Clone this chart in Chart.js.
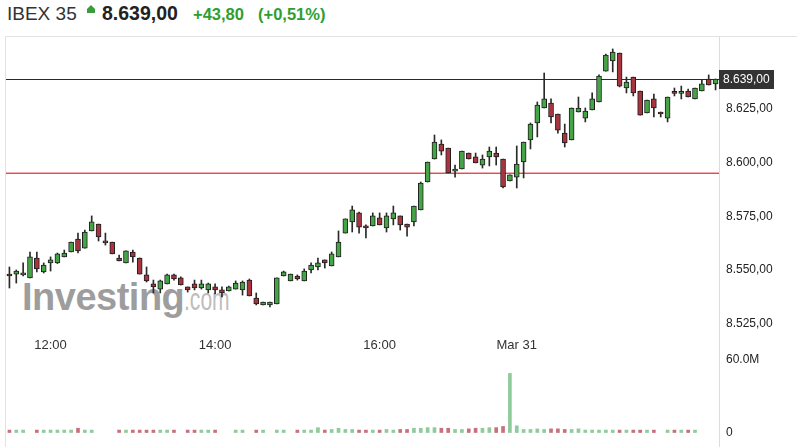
<!DOCTYPE html>
<html>
<head>
<meta charset="utf-8">
<script src="https://cdn.jsdelivr.net/npm/chart.js@4.4.1/dist/chart.umd.min.js"></script>
<style>
html,body{margin:0;padding:0;background:#fff;}
body{width:797px;height:447px;position:relative;overflow:hidden;font-family:Arial,"Liberation Sans",sans-serif;}
.h{position:absolute;line-height:1;white-space:nowrap;}
#name{left:7px;top:4px;font-size:19px;color:#333;}
#arrow{position:absolute;left:87px;top:5px;width:8px;height:8px;background:#3a9d3a;clip-path:polygon(50% 0,100% 50%,100% 100%,0 100%,0 50%);}
#last{left:102px;top:4px;font-size:19.5px;font-weight:bold;color:#222;}
#chg{left:193px;top:6px;font-size:16.5px;font-weight:bold;color:#2f9e2f;}
#pct{left:258px;top:6px;font-size:16.5px;font-weight:bold;color:#2f9e2f;}
#mark{position:absolute;left:22px;top:278px;white-space:nowrap;line-height:1;}
#mark b{font-size:38px;color:rgba(125,125,125,0.75);letter-spacing:-0.5px;}
#mark span{display:inline-block;font-size:31px;color:rgba(150,150,150,0.65);transform:scaleX(0.68);transform-origin:left bottom;}
#wrap{position:absolute;left:5px;top:36px;width:792px;height:411px;border-left:1px solid #e3e3e3;border-top:1px solid #e3e3e3;box-sizing:border-box;}
canvas{display:block;}
</style>
</head>
<body>
<span class="h" id="name">IBEX 35</span><span id="arrow"></span>
<span class="h" id="last">8.639,00</span>
<span class="h" id="chg">+43,80</span>
<span class="h" id="pct">(+0,51%)</span>
<div id="mark"><b>Investing</b><span>.com</span></div>
<div id="wrap"><canvas id="c" width="791" height="410"></canvas></div>
<script>
// 5-minute candles: Mar 30 from 11:30 to 17:35, Mar 31 from 09:00
const sessions=[{day:'Mar 30',start:'11:30',count:74},{day:'Mar 31',start:'09:00',count:30}];
const shownTicks=['12:00','14:00','16:00','Mar 31'];

const opens=[8547.7,8548.1,8547.7,8546.3,8555.6,8549.1,8553.3,8553.3,8556.1,8558.4,
8564.4,8560.2,8568.2,8571.4,8563.0,8563.0,8555.6,8553.3,8558.4,8555.6,
8547.7,8543.5,8541.1,8543.5,8547.7,8546.3,8542.1,8543.5,8541.6,8540.7,
8542.1,8540.7,8540.2,8541.1,8540.7,8545.3,8536.9,8533.7,8533.7,8534.2,
8547.2,8544.9,8547.2,8544.9,8550.0,8551.4,8554.7,8551.9,8556.1,8567.2,
8572.4,8576.6,8570.5,8570.5,8574.3,8569.6,8573.8,8575.2,8571.4,8572.4,
8578.0,8591.0,8601.7,8608.7,8606.8,8596.1,8597.1,8604.5,8602.7,8598.9,
8602.7,8604.5,8601.7,8591.5,8593.3,8600.3,8610.6,8618.5,8625.5,8627.8,
8622.7,8613.8,8610.6,8623.6,8620.8,8624.6,8628.3,8642.7,8647.4,8651.1,
8634.8,8639.9,8633.4,8623.2,8629.7,8623.6,8620.8,8632.5,8632.3,8633.4,
8629.7,8633.4,8639.0,8636.7];
const highs=[8551.4,8550.0,8553.3,8558.4,8558.4,8553.3,8556.1,8557.9,8559.3,8563.0,
8567.2,8568.6,8575.2,8571.4,8567.2,8563.0,8557.0,8558.9,8559.3,8555.6,
8551.4,8545.3,8545.3,8548.1,8548.1,8546.8,8542.1,8545.3,8545.3,8543.9,
8543.5,8542.1,8542.5,8544.9,8544.9,8545.8,8539.3,8535.1,8535.1,8546.3,
8549.5,8548.1,8547.7,8550.5,8553.3,8555.6,8554.7,8558.4,8568.2,8573.8,
8579.8,8577.0,8571.0,8576.6,8576.6,8576.6,8579.8,8575.2,8571.4,8579.8,
8591.0,8600.3,8612.9,8610.6,8606.8,8598.9,8605.4,8604.5,8604.5,8603.6,
8607.3,8607.3,8601.7,8594.3,8607.8,8609.6,8618.5,8628.3,8641.8,8629.7,
8622.7,8618.0,8625.5,8630.6,8625.5,8632.5,8640.9,8650.6,8653.0,8651.1,
8639.9,8639.9,8633.4,8629.2,8632.0,8623.6,8630.6,8634.8,8635.7,8634.3,
8634.8,8638.5,8640.9,8639.0];
const lows=[8541.6,8543.9,8547.2,8546.3,8549.1,8548.6,8549.5,8553.0,8556.1,8558.4,
8557.9,8560.2,8568.2,8563.5,8561.6,8557.5,8554.2,8553.3,8553.7,8548.1,
8544.4,8539.3,8539.3,8543.5,8545.3,8543.0,8539.7,8540.7,8541.1,8539.3,
8538.8,8537.4,8540.2,8541.1,8538.3,8537.9,8533.7,8533.7,8532.8,8534.2,
8547.2,8544.9,8545.3,8544.9,8548.6,8550.0,8550.9,8551.9,8556.1,8567.2,
8567.7,8567.2,8564.9,8570.5,8571.0,8567.7,8571.0,8568.6,8565.8,8570.5,
8578.0,8591.0,8601.7,8603.6,8595.2,8593.3,8597.1,8601.7,8599.9,8597.5,
8598.5,8598.9,8588.2,8591.5,8588.2,8592.9,8606.4,8612.0,8625.5,8618.5,
8613.8,8607.3,8610.6,8623.6,8619.0,8624.6,8628.3,8642.7,8642.3,8635.3,
8632.5,8631.1,8622.2,8623.2,8621.3,8621.3,8619.0,8631.1,8629.7,8630.6,
8629.7,8633.4,8636.2,8633.9];
const closes=[8547.2,8549.5,8547.9,8556.1,8550.5,8552.3,8554.7,8557.5,8557.9,8563.0,
8558.9,8567.7,8572.4,8565.4,8562.6,8557.5,8554.2,8558.9,8556.1,8548.1,
8544.9,8542.1,8544.9,8547.7,8545.8,8543.0,8540.7,8541.6,8543.5,8543.5,
8540.7,8539.3,8542.1,8543.9,8544.4,8537.9,8534.2,8535.1,8535.1,8546.3,
8549.1,8548.1,8545.8,8549.5,8552.3,8553.3,8553.3,8557.5,8563.0,8573.8,
8578.0,8570.0,8569.6,8575.2,8571.0,8575.2,8576.6,8571.0,8570.0,8579.8,
8590.5,8600.3,8609.6,8605.4,8595.2,8596.3,8605.4,8601.7,8599.9,8601.7,
8605.4,8602.7,8588.7,8594.3,8599.4,8609.6,8618.0,8626.9,8629.7,8621.3,
8615.2,8609.2,8625.5,8625.5,8624.1,8629.7,8640.4,8650.2,8651.6,8635.7,
8637.6,8632.5,8622.2,8629.2,8625.5,8622.7,8630.6,8632.3,8632.5,8630.6,
8634.8,8636.7,8636.2,8639.0];
// volume in millions, null where the feed shows no bar
const volumes=[2,2,2,null,2,2,2,2,2,2,
3.5,2,2,null,null,null,2,2,2,2,
2,2,2,2,2,null,2,2,2,2,
2,null,null,2,2,null,2,2,null,2,
2,null,2,2,2,4,2,2.5,3.5,2.5,
2.5,2,2,2,2,2.5,2,2.5,2.5,3.5,
3.5,4,4,3.5,3.5,2.5,2.5,3,3.5,3.5,
4,4,5,48.5,5.5,2.5,2.5,3,2.5,3,
3,2.5,2.5,3,2,2,2,2,2,2,
2,2,2,2,2,null,2,2,2,2,
2,null,null,null];

const lastPrice=8639.00, prevClose=8595.20;
const priceTicks=[8525,8550,8575,8600,8625];
const volTicks=[0,60];

function buildLabels(){
  const out=[];
  sessions.forEach((s,si)=>{
    let [h,m]=s.start.split(':').map(Number);
    for(let i=0;i<s.count;i++){
      out.push(si>0&&i===0?s.day:String(h).padStart(2,'0')+':'+String(m).padStart(2,'0'));
      m+=5;if(m>=60){m-=60;h++;}
    }
  });
  return out;
}
const labels=buildLabels();

function fmtPrice(v){
  const [i,d]=v.toFixed(2).split('.');
  return i.replace(/\B(?=(\d{3})+(?!\d))/g,'.')+','+d;
}

const up=closes.map((c,i)=>c>=opens[i]);
const bodyCol=up.map(u=>u?'#45a445':'#a8343f');
const volCol=up.map(u=>u?'#8fcb9b':'#c8707e');

// price reference lines drawn as thin filled strips across the plot
function hLine(ctx,a,py,color,h){
  ctx.save();
  ctx.fillStyle=color;
  ctx.fillRect(a.left,py,a.right-a.left,h);
  ctx.restore();
}

const refLines={
  id:'refLines',
  beforeDatasetsDraw(c){
    const {ctx,chartArea:a,scales:{y}}=c;
    hLine(ctx,a,Math.round(y.getPixelForValue(lastPrice)),'#2a2a2a',1);
    const pr=Math.round(y.getPixelForValue(prevClose));
    hLine(ctx,a,pr-1,'rgba(236,74,74,0.45)',1);
    hLine(ctx,a,pr,'#ec4a4a',1);
  },
  afterDraw(c){
    const {ctx,chartArea:a,scales:{y}}=c;
    const py=Math.round(y.getPixelForValue(lastPrice));
    ctx.save();
    ctx.fillStyle='#333';
    ctx.fillRect(a.right,py-9,55,19);
    ctx.fillStyle='#fff';ctx.font='12px Arial, "Liberation Sans", sans-serif';
    ctx.textBaseline='middle';ctx.textAlign='left';
    ctx.fillText(fmtPrice(lastPrice),a.right+4,py+1);
    ctx.restore();
  }
};

const axisW=s=>{s.width=78;s.paddingTop=0;s.paddingBottom=0;};

new Chart(document.getElementById('c').getContext('2d'),{
  type:'bar',
  data:{
    labels,
    datasets:[
      {label:'wick',data:lows.map((l,i)=>[l,highs[i]]),yAxisID:'y',backgroundColor:'#2a2a2a',
        barThickness:1,grouped:false,order:3},
      {label:'body',data:opens.map((o,i)=>[o,closes[i]]),yAxisID:'y',backgroundColor:bodyCol,
        borderColor:'#1e1e1e',borderWidth:1,borderSkipped:false,barThickness:5,minBarLength:2,grouped:false,order:1},
      {label:'volume',data:volumes,yAxisID:'yv',backgroundColor:volCol,barThickness:3,grouped:false,order:2}
    ]
  },
  options:{
    responsive:false,animation:false,
    layout:{padding:0,autoPadding:false},
    plugins:{legend:{display:false},tooltip:{enabled:false}},
    scales:{
      x:{type:'category',offset:true,position:{y:8519.8},
        grid:{display:false,drawTicks:false},border:{display:false},
        ticks:{autoSkip:false,maxRotation:0,padding:3,color:'#333',font:{size:13,family:'Arial, "Liberation Sans", sans-serif'},
          callback:(v,i)=>shownTicks.includes(labels[i])?labels[i]:''}},
      y:{position:'right',stack:'panes',stackWeight:312,min:8513.18,max:8658.57,
        grid:{display:false,drawTicks:false},border:{color:'#dcdcdc'},
        afterBuildTicks:s=>{s.ticks=priceTicks.map(v=>({value:v}));},
        afterFit:axisW,
        ticks:{padding:7,color:'#222',font:{size:12,family:'Arial, "Liberation Sans", sans-serif'},callback:v=>fmtPrice(v)}},
      yv:{position:'right',stack:'panes',stackWeight:98,min:-11.9,max:68.6,
        grid:{display:false,drawTicks:false},border:{color:'#dcdcdc'},
        afterBuildTicks:s=>{s.ticks=volTicks.map(v=>({value:v}));},
        afterFit:axisW,
        ticks:{padding:7,color:'#222',font:{size:12,family:'Arial, "Liberation Sans", sans-serif'},callback:v=>v===0?'0':v.toFixed(1)+'M'}}
    }
  },
  plugins:[refLines]
});
</script>
</body>
</html>
